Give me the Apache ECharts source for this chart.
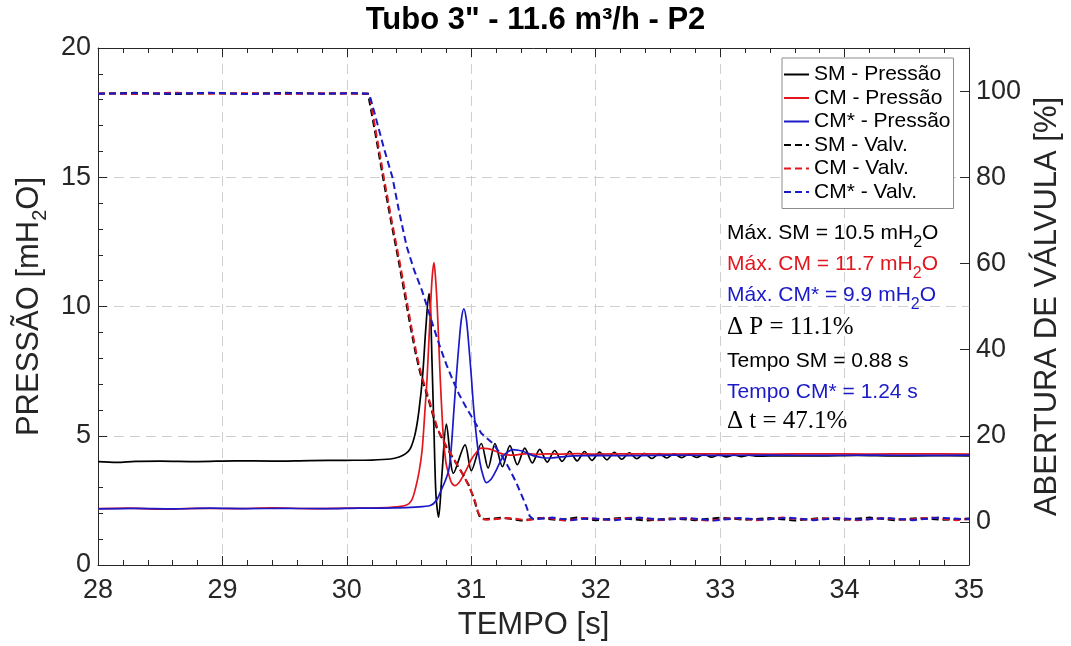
<!DOCTYPE html>
<html><head><meta charset="utf-8">
<script src="https://cdn.jsdelivr.net/npm/echarts@6/dist/echarts.min.js"></script>
<style>html,body{margin:0;padding:0;background:#fff}#c{width:1071px;height:646px}</style>
</head><body><div id="c"></div>
<script>
// ---- tick values ----
const xRange = [28, 35];
const yLeftRange = [0, 20];
const yRightRange = [-10, 110];
const yRightTicks = [0, 20, 40, 60, 80, 100];

// ---- pressure series [time s, mH2O] ----
const smPressao = [[28.00,4.00],[28.15,3.97],[28.30,4.01],[28.50,4.02],[28.80,4.00],[29.10,4.03],[29.40,4.02],[29.70,4.04],[30.00,4.05],[30.20,4.06],[30.35,4.10],[30.42,4.18],[30.47,4.30],[30.51,4.50],[30.55,5.10],[30.58,6.00],[30.61,7.40],[30.635,9.20],[30.66,10.50],[30.672,9.90],[30.684,7.90],[30.70,5.20],[30.716,2.70],[30.737,1.85],[30.764,3.50],[30.80,5.45],[30.857,3.55],[30.95,4.65],[31.00,3.65],[31.08,4.70],[31.135,3.75],[31.19,4.70],[31.25,3.80],[31.31,4.62],[31.37,3.88],[31.43,4.52],[31.49,3.95],[31.55,4.47],[31.61,3.98],[31.67,4.43],[31.73,4.01],[31.79,4.40],[31.85,4.03],[31.91,4.39],[31.97,4.05],[32.03,4.37],[32.09,4.07],[32.15,4.36],[32.21,4.09],[32.27,4.34],[32.33,4.11],[32.39,4.32],[32.45,4.12],[32.51,4.31],[32.57,4.14],[32.63,4.30],[32.69,4.15],[32.75,4.29],[32.81,4.16],[32.87,4.28],[32.93,4.17],[32.99,4.27],[33.05,4.18],[33.11,4.26],[33.17,4.19],[33.23,4.25],[33.30,4.21],[33.50,4.23],[33.80,4.22],[34.10,4.24],[34.40,4.22],[34.70,4.23],[35.00,4.22]];
const cmPressao = [[28.00,2.18],[28.25,2.20],[28.50,2.16],[28.80,2.19],[29.10,2.18],[29.40,2.21],[29.70,2.18],[30.00,2.20],[30.25,2.21],[30.40,2.25],[30.48,2.32],[30.52,2.50],[30.55,2.94],[30.58,3.60],[30.605,4.46],[30.625,5.80],[30.645,7.26],[30.67,9.78],[30.685,11.10],[30.70,11.70],[30.714,11.00],[30.728,9.80],[30.75,7.25],[30.775,4.97],[30.795,4.00],[30.815,3.57],[30.84,3.20],[30.868,3.07],[30.90,3.18],[30.935,3.45],[30.97,3.78],[31.00,4.08],[31.04,4.35],[31.08,4.52],[31.13,4.50],[31.175,4.44],[31.23,4.33],[31.28,4.27],[31.34,4.25],[31.40,4.29],[31.46,4.31],[31.53,4.28],[31.60,4.30],[31.70,4.29],[31.85,4.31],[32.00,4.29],[32.30,4.30],[32.60,4.29],[33.00,4.30],[33.40,4.29],[33.80,4.30],[34.20,4.29],[34.60,4.30],[35.00,4.29]];
const cmsPressao = [[28.00,2.17],[28.30,2.19],[28.60,2.17],[28.90,2.20],[29.20,2.18],[29.50,2.19],[29.80,2.18],[30.10,2.20],[30.40,2.21],[30.55,2.24],[30.67,2.30],[30.72,2.50],[30.75,2.81],[30.79,3.25],[30.82,3.70],[30.84,4.60],[30.86,5.98],[30.88,7.30],[30.90,8.50],[30.92,9.50],[30.94,9.91],[30.96,9.50],[30.98,8.50],[31.00,7.30],[31.02,6.00],[31.045,4.80],[31.07,3.95],[31.095,3.45],[31.12,3.19],[31.155,3.30],[31.19,3.57],[31.255,4.20],[31.295,4.38],[31.335,4.46],[31.375,4.44],[31.415,4.40],[31.47,4.28],[31.52,4.20],[31.575,4.15],[31.63,4.14],[31.72,4.18],[31.82,4.22],[32.00,4.24],[32.30,4.23],[32.60,4.25],[33.00,4.24],[33.40,4.25],[33.80,4.24],[34.20,4.25],[34.60,4.24],[35.00,4.25]];

// ---- valve opening series [time s, %] ----
const smValv = [[28.00,99.4],[28.30,99.6],[28.60,99.3],[28.90,99.5],[29.20,99.4],[29.50,99.6],[29.80,99.4],[30.05,99.5],[30.17,99.4],[30.23,90.0],[30.29,80.0],[30.35,70.5],[30.41,61.5],[30.47,52.0],[30.51,45.5],[30.55,39.5],[30.59,34.5],[30.66,28.0],[30.72,22.0],[30.80,17.3],[30.87,14.0],[30.93,11.2],[30.98,8.5],[31.02,5.5],[31.05,2.5],[31.07,1.0],[31.10,0.6],[31.25,1.0],[31.40,0.3],[31.55,0.9],[31.70,0.4],[31.85,1.0],[32.00,0.4],[32.20,0.9],[32.40,0.3],[32.60,0.8],[32.80,0.4],[33.00,1.0],[33.20,0.5],[33.40,0.9],[33.60,0.3],[33.80,0.9],[34.00,0.5],[34.20,1.0],[34.40,0.4],[34.60,0.9],[34.80,0.5],[35.00,0.8]];
const cmValv = [[28.00,99.5],[28.30,99.3],[28.60,99.6],[28.90,99.4],[29.20,99.5],[29.50,99.3],[29.80,99.5],[30.05,99.4],[30.18,99.4],[30.24,89.5],[30.30,79.5],[30.36,70.0],[30.42,61.0],[30.48,51.5],[30.52,45.0],[30.56,39.0],[30.60,34.0],[30.67,27.5],[30.73,21.5],[30.81,17.0],[30.88,13.6],[30.94,10.6],[30.99,7.8],[31.03,4.8],[31.055,2.2],[31.08,0.9],[31.12,0.5],[31.30,0.9],[31.45,0.4],[31.60,1.0],[31.75,0.3],[31.90,0.9],[32.10,0.5],[32.30,1.0],[32.50,0.4],[32.70,0.9],[32.90,0.3],[33.10,0.9],[33.30,0.4],[33.50,1.0],[33.70,0.5],[33.90,0.9],[34.10,0.4],[34.30,0.9],[34.50,0.5],[34.70,1.0],[34.90,0.4],[35.00,0.7]];
const cmsValv = [[28.00,99.4],[28.30,99.5],[28.60,99.4],[28.90,99.6],[29.20,99.3],[29.50,99.5],[29.80,99.4],[30.05,99.5],[30.18,99.4],[30.24,93.0],[30.30,86.5],[30.366,80.0],[30.42,72.0],[30.48,64.0],[30.54,58.5],[30.60,54.0],[30.65,49.5],[30.70,44.9],[30.75,40.5],[30.80,36.5],[30.85,33.0],[30.90,29.7],[30.96,26.5],[31.02,23.6],[31.08,20.6],[31.17,18.3],[31.23,16.0],[31.28,13.7],[31.32,11.5],[31.36,9.2],[31.40,6.5],[31.44,3.8],[31.47,1.3],[31.50,0.6],[31.65,1.0],[31.80,0.4],[31.95,0.9],[32.15,0.4],[32.35,1.0],[32.55,0.5],[32.75,0.9],[32.95,0.3],[33.15,0.9],[33.35,0.5],[33.55,1.0],[33.75,0.4],[33.95,0.9],[34.15,0.5],[34.35,0.9],[34.55,0.4],[34.75,1.0],[35.00,0.6]];

// ---- texts ----
const titleText = 'Tubo 3" - 11.6 m³/h - P2';
const notes = [
  {t: '{a|Máx. SM = 10.5 mH}{s|2}{a|O}', c: '#000000'},
  {t: '{a|Máx. CM = 11.7 mH}{s|2}{a|O}', c: '#e3161d'},
  {t: '{a|Máx. CM* = 9.9 mH}{s|2}{a|O}', c: '#1a1ac8'},
  {t: '{m|Δ P = 11.1%}', c: '#000000'},
  {t: '{a|Tempo SM = 0.88 s}', c: '#000000'},
  {t: '{a|Tempo CM* = 1.24 s}', c: '#1a1ac8'},
  {t: '{m|Δ t = 47.1%}', c: '#000000'}
];
const noteY = [233, 264, 295, 327, 361, 392, 421];

const FONT = '"Liberation Sans", Arial, Helvetica, sans-serif';
const RED = '#e3161d', BLUE = '#1a1ac8', BLACK = '#000000';
const AX = '#262626';

const chart = echarts.init(document.getElementById('c'), null, {renderer: 'canvas', width: 1071, height: 646});

function solid(name, data, color) {
  return {name, type: 'line', xAxisIndex: 0, yAxisIndex: 0, data, symbol: 'none', smooth: 0.3,
    lineStyle: {color, width: 1.7}, itemStyle: {color}, emphasis: {disabled: true}};
}
function dashed(name, data, color) {
  return {name, type: 'line', xAxisIndex: 0, yAxisIndex: 1, data, symbol: 'none',
    lineStyle: {color, width: 2, type: [7, 4]}, itemStyle: {color}, emphasis: {disabled: true}};
}

const xCommon = {
  type: 'value', min: xRange[0], max: xRange[1], interval: 1,
  axisLine: {show: true, onZero: false, lineStyle: {color: AX, width: 1}},
  axisTick: {show: true, inside: true, length: 9, lineStyle: {color: AX}},
  minorTick: {show: true, splitNumber: 5, length: 5, lineStyle: {color: AX}},
};

const richSub = (fs, lh, sfs) => ({
  a: {fontSize: fs, lineHeight: lh, fontFamily: FONT},
  s: {fontSize: sfs, lineHeight: sfs, verticalAlign: 'bottom', fontFamily: FONT}
});

const graphics = notes.map((n, i) => ({
  type: 'text', x: 727, y: noteY[i], z: 100,
  style: {
    text: n.t, fill: n.c, verticalAlign: 'middle', align: 'left',
    rich: {
      a: {fontSize: 21, lineHeight: 36, fontFamily: FONT, fill: n.c},
      s: {fontSize: 16, lineHeight: 16, verticalAlign: 'bottom', fontFamily: FONT, fill: n.c},
      m: {fontSize: 25, lineHeight: 36, fontFamily: '"Liberation Serif", "DejaVu Serif", serif', fill: n.c}
    }
  }
}));

chart.setOption({
  animation: false,
  backgroundColor: '#ffffff',
  title: {text: titleText, left: 'center', top: 0,
    textStyle: {fontFamily: FONT, fontSize: 31, fontWeight: 'bold', color: '#000'}},
  grid: {left: 98, right: 93, top: 48, bottom: 72, containLabel: false},
  legend: {
    orient: 'vertical', left: 782, top: 58,
    backgroundColor: '#ffffff', borderColor: '#8c8c8c', borderWidth: 1, borderRadius: 0,
    padding: [6, 3, 6, 1], itemGap: 2.5, itemWidth: 25, itemHeight: 12,
    itemStyle: {opacity: 0},
    textStyle: {fontFamily: FONT, fontSize: 21, lineHeight: 21, color: '#000'},
    selectedMode: false,
    data: ['SM - Pressão', 'CM - Pressão', 'CM* - Pressão', 'SM - Valv.', 'CM - Valv.', 'CM* - Valv.']
  },
  xAxis: [
    Object.assign({}, xCommon, {
      position: 'bottom',
      axisLabel: {show: true, fontFamily: FONT, fontSize: 27, color: AX, margin: 12},
      splitLine: {show: true, lineStyle: {color: '#cfcfcf', width: 1, type: [10, 6]}},
      name: 'TEMPO [s]', nameLocation: 'middle', nameGap: 45,
      nameTextStyle: {fontFamily: FONT, fontSize: 31, color: AX}
    }),
    Object.assign({}, xCommon, {
      position: 'top',
      axisLabel: {show: false},
      splitLine: {show: false}
    })
  ],
  yAxis: [
    {
      type: 'value', min: yLeftRange[0], max: yLeftRange[1], interval: 5, position: 'left',
      axisLine: {show: true, onZero: false, lineStyle: {color: AX, width: 1}},
      axisTick: {show: true, inside: true, length: 9, lineStyle: {color: AX}},
      minorTick: {show: true, splitNumber: 5, length: 5, lineStyle: {color: AX}},
      axisLabel: {fontFamily: FONT, fontSize: 27, color: AX, margin: 7},
      splitLine: {show: true, lineStyle: {color: '#cfcfcf', width: 1, type: [10, 6]}},
      name: '{a|PRESSÃO [mH}{s|2}{a|O]}', nameLocation: 'middle', nameGap: 46,
      nameTextStyle: {fontFamily: FONT, fontSize: 31, color: AX, rich: richSub(31, 42, 20)}
    },
    {
      type: 'value', min: yRightRange[0], max: yRightRange[1], position: 'right',
      axisLine: {show: true, onZero: false, lineStyle: {color: AX, width: 1}},
      axisTick: {show: true, inside: true, length: 9, lineStyle: {color: AX}, customValues: yRightTicks},
      axisLabel: {fontFamily: FONT, fontSize: 27, color: AX, margin: 7, customValues: yRightTicks,
        formatter: v => (v < 0 || v > 100) ? '' : String(v)},
      splitLine: {show: false},
      name: 'ABERTURA DE VÁLVULA [%]', nameLocation: 'middle', nameGap: 56, nameRotate: 90,
      nameTextStyle: {fontFamily: FONT, fontSize: 31, color: AX}
    }
  ],
  series: [
    solid('SM - Pressão', smPressao, BLACK),
    solid('CM - Pressão', cmPressao, RED),
    solid('CM* - Pressão', cmsPressao, BLUE),
    dashed('SM - Valv.', smValv, BLACK),
    dashed('CM - Valv.', cmValv, RED),
    dashed('CM* - Valv.', cmsValv, BLUE)
  ],
  graphic: graphics
});
</script>
</body></html>
